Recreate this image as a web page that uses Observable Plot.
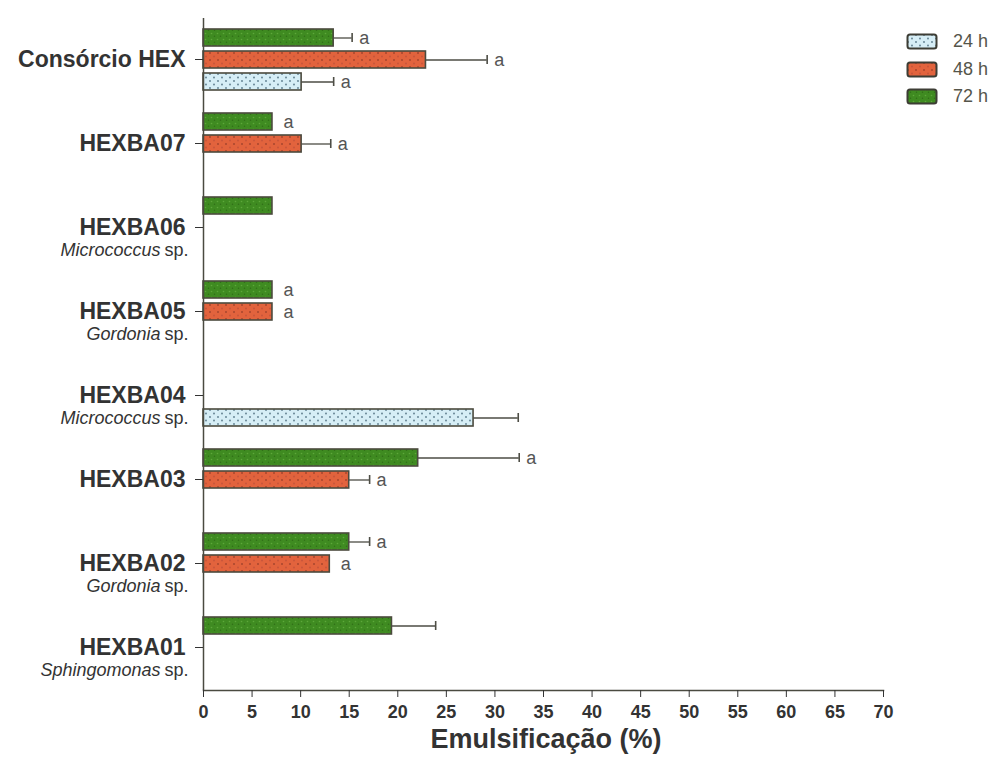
<!DOCTYPE html>
<html><head><meta charset="utf-8">
<script src="https://cdn.jsdelivr.net/npm/d3@7"></script>
<script src="https://cdn.jsdelivr.net/npm/@observablehq/plot@0.6"></script>
<style>
body{margin:0;background:#fff;font-family:"Liberation Sans",Arial,sans-serif;}
#wrap{position:relative;width:1001px;height:760px;overflow:hidden;}
#title{position:absolute;top:726px;left:546px;transform:translateX(-50%);font-size:27px;font-weight:bold;color:#333;white-space:nowrap;line-height:1;}
#legend{position:absolute;left:906px;top:28px;}
.row{display:flex;align-items:center;height:27.5px;font-size:18px;color:#55554a;}
.row svg{margin-right:15px;}
</style></head><body>
<svg width="0" height="0" style="position:absolute">
  <defs>
    <pattern id="p24" width="8" height="7" patternUnits="userSpaceOnUse">
      <rect width="8" height="7" fill="#d6eef6"/>
      <circle cx="2" cy="2" r="0.9" fill="#5c7c8c"/>
      <circle cx="6" cy="5.5" r="0.9" fill="#5c7c8c"/>
    </pattern>
    <pattern id="p48" width="8" height="7" patternUnits="userSpaceOnUse">
      <rect width="8" height="7" fill="#e2633d"/>
      <circle cx="2" cy="2" r="1" fill="#a8452c"/>
      <circle cx="6" cy="5.5" r="1" fill="#c8553a"/>
    </pattern>
    <pattern id="p72" width="6" height="6" patternUnits="userSpaceOnUse">
      <rect width="6" height="6" fill="#3f8b21"/>
      <circle cx="1.5" cy="1.5" r="0.8" fill="#5da83a"/>
      <circle cx="4.5" cy="4.2" r="0.8" fill="#2f6e17"/>
    </pattern>
  </defs>
</svg>
<div id="wrap">
  <div id="legend"></div>
  <div id="title">Emulsificação (%)</div>
</div>
<script>
// ---- data ----
const categories = ["Consórcio HEX", "HEXBA07", "HEXBA06", "HEXBA05", "HEXBA04", "HEXBA03", "HEXBA02", "HEXBA01"];
const genera = ["", "", "Micrococcus", "Gordonia", "Micrococcus", "", "Gordonia", "Sphingomonas"];
const times = ["72 h", "48 h", "24 h"];
const legendOrder = ["24 h", "48 h", "72 h"];
const xTicks = [0, 5, 10, 15, 20, 25, 30, 35, 40, 45, 50, 55, 60, 65, 70];

const values24 = [10.1, null, null, null, 27.8, null, null, null];
const errors24 = [3.3, null, null, null, 4.6, null, null, null];
const letters24 = ["a", "", "", "", "", "", "", ""];

const values48 = [22.9, 10.1, null, 7.1, null, 15.0, 13.0, null];
const errors48 = [6.3, 3.0, null, 0, null, 2.1, 0, null];
const letters48 = ["a", "a", "", "a", "", "a", "a", ""];

const values72 = [13.4, 7.1, 7.1, 7.1, null, 22.1, 15.0, 19.4];
const errors72 = [1.9, 0, 0, 0, null, 10.4, 2.1, 4.5];
const letters72 = ["a", "a", "", "a", "", "a", "a", ""];

// ---- build table ----
const series = {
  "24 h": [values24, errors24, letters24],
  "48 h": [values48, errors48, letters48],
  "72 h": [values72, errors72, letters72]
};
const rows = [];
for (const t of times) {
  const [v, e, l] = series[t];
  categories.forEach((c, i) => {
    if (v[i] != null) rows.push({category: c, time: t, value: v[i], err: e[i] || 0, label: l[i]});
  });
}
const errRows = rows.filter(d => d.err > 0);
const spRows = categories.map((c, i) => ({category: c, genus: genera[i]})).filter(d => d.genus);

const fills = {"72 h": "url(#p72)", "48 h": "url(#p48)", "24 h": "url(#p24)"};
const ink = "#333";
const lineInk = "#4a4a40";

const chart = Plot.plot({
  width: 1001,
  height: 760,
  marginLeft: 203,
  marginRight: 118,
  marginTop: 16,
  marginBottom: 68,
  style: {fontFamily: "'Liberation Sans', Arial, sans-serif", background: "transparent"},
  x: {domain: [0, 70], axis: null},
  y: {domain: times, axis: null, paddingInner: 0.22, paddingOuter: 0.45},
  fy: {domain: categories, padding: 0, axis: null},
  color: {domain: times, range: times.map(t => fills[t])},
  marks: [
    Plot.barX(rows, {x: "value", y: "time", fy: "category", fill: "time", stroke: "#4b4a3e", strokeWidth: 1.6}),
    Plot.ruleY(errRows, {x1: "value", x2: d => d.value + d.err, y: "time", fy: "category", stroke: "#4d4d45", strokeWidth: 1.3}),
    Plot.tickX(errRows, {x: d => d.value + d.err, y: "time", fy: "category", stroke: "#4d4d45", strokeWidth: 1.6, insetTop: 4, insetBottom: 4}),
    Plot.text(rows.filter(d => d.label && d.err > 0), {x: d => d.value + d.err, y: "time", fy: "category", text: "label", textAnchor: "start", dx: 7, fontSize: 18, fill: "#555"}),
    Plot.text(rows.filter(d => d.label && !(d.err > 0)), {x: "value", y: "time", fy: "category", text: "label", textAnchor: "start", dx: 11, fontSize: 18, fill: "#555"}),
    Plot.ruleX([0], {stroke: lineInk, strokeWidth: 1.5}),
    Plot.frame({anchor: "bottom", facet: "super", stroke: lineInk, strokeWidth: 1.5}),
    Plot.axisX({ticks: xTicks, tickSize: 7, tickPadding: 8, fontSize: 18, fontWeight: "bold", color: ink, label: null}),
    Plot.axisFy({anchor: "left", tickSize: 8, tickPadding: 10, fontSize: 23, fontWeight: "bold", color: ink, label: null, dy: -1}),
    Plot.text(spRows, {fy: "category", frameAnchor: "left", text: "genus", textAnchor: "end", dx: -43, dy: 22, fontSize: 18, fontStyle: "italic", fill: ink}),
    Plot.text(spRows, {fy: "category", frameAnchor: "left", text: () => "sp.", textAnchor: "end", dx: -15, dy: 22, fontSize: 18, fill: ink})
  ]
});
document.getElementById("wrap").prepend(chart);

// legend
const leg = document.getElementById("legend");
for (const t of legendOrder) {
  const row = document.createElement("div");
  row.className = "row";
  row.innerHTML = `<svg width="32" height="17"><rect x="1.5" y="1.5" width="29" height="14" rx="2.5" fill="${fills[t]}" stroke="#3d3d35" stroke-width="2"/></svg><span>${t}</span>`;
  leg.appendChild(row);
}
</script>
</body></html>
